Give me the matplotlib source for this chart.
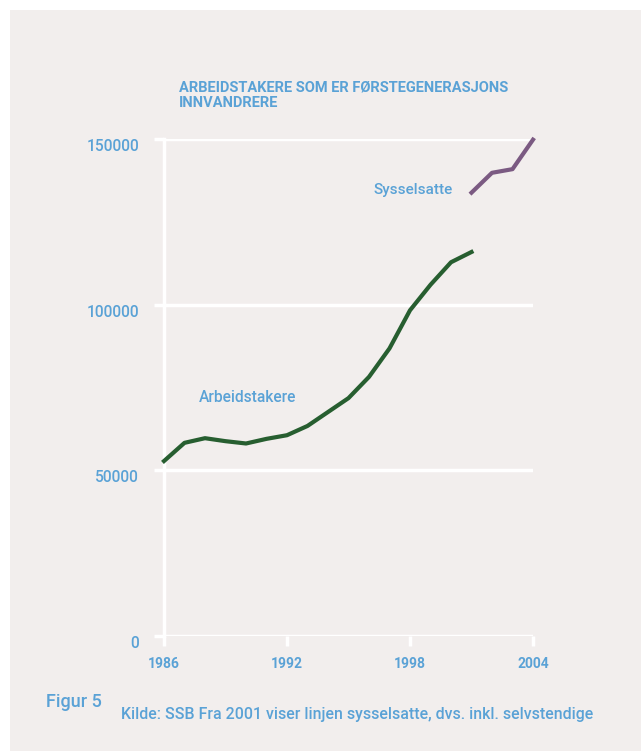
import matplotlib
matplotlib.use("Agg")
import matplotlib.pyplot as plt
from matplotlib.patches import Rectangle
from matplotlib.transforms import ScaledTranslation

# data
years_arb = [1986, 1987, 1988, 1989, 1990, 1991, 1992, 1993, 1994, 1995,
             1996, 1997, 1998, 1999, 2000, 2001]
arbeidstakere = [52800, 58300, 59700, 58800, 58100, 59500, 60600, 63400,
                 67600, 71800, 78200, 86800, 98300, 106000, 112800, 115900]
years_sys = [2001, 2002, 2003, 2004]
sysselsatte = [133800, 139800, 140900, 149800]
xticks = [1986, 1992, 1998, 2004]
yticks = [0, 50000, 100000, 150000]

BG = "#f2eeed"
BLUE = "#5aa2d6"
GREEN = "#275e30"
PURPLE = "#7b5a82"
FONT = ["Roboto", "DejaVu Sans"]

W, H = 641, 751
fig = plt.figure(figsize=(W / 100, H / 100), dpi=100)
fig.patch.set_facecolor("white")
fig.patches.append(Rectangle((10 / W, 0), 1, 1 - 10 / H, transform=fig.transFigure,
                             facecolor=BG, edgecolor="none", zorder=-5))


def fx(px):
    return px / W


def fy(py):
    return 1 - py / H


ax = fig.add_axes([fx(164), fy(636), fx(533) - fx(164), fy(139) - fy(636)])
ax.set_zorder(2)
ax.set_facecolor("none")
ax.set_xlim(1986, 2004)
ax.set_ylim(0, 150000)

ax.plot(years_arb, arbeidstakere, color=GREEN, lw=3, clip_on=False, zorder=3)
ax.plot(years_sys, sysselsatte, color=PURPLE, lw=3, clip_on=False, zorder=3)

for s in ["top", "right", "bottom"]:
    ax.spines[s].set_visible(False)
ax.spines["left"].set_color("white")
ax.spines["left"].set_linewidth(2.5)

ax.set_yticks(yticks)
ax.set_yticklabels([str(v) for v in yticks])
ax.set_xticks(xticks)
ax.set_xticklabels([str(v) for v in xticks])
ax.yaxis.grid(True, color="white", lw=2.5)
ax.set_axisbelow(True)
ax.tick_params(axis="y", length=7, width=2.5, color="white", pad=11,
               labelcolor=BLUE, labelsize=11.2)
ax.tick_params(axis="x", length=7, width=2.5, color="white", pad=8,
               labelcolor=BLUE, labelsize=10)
# value labels sit a little below their grid line
shift = ScaledTranslation(0, -6 / 100, fig.dpi_scale_trans)
for lab in ax.get_yticklabels():
    lab.set_family(FONT)
    lab.set_fontweight("medium")
    lab.set_transform(lab.get_transform() + shift)
for lab in ax.get_xticklabels():
    lab.set_family(FONT)
    lab.set_fontweight("bold")

ax.text(2000.1, 134500, "Sysselsatte", color=BLUE, fontsize=11, family=FONT,
        ha="right", va="center", fontweight="medium")
ax.text(1987.7, 72000, "Arbeidstakere", color=BLUE, fontsize=11.2, family=FONT,
        ha="left", va="center", fontweight="medium")

fig.text(fx(179), fy(80), "ARBEIDSTAKERE SOM ER FØRSTEGENERASJONS\nINNVANDRERE",
         color=BLUE, fontsize=10.5, family=FONT, fontweight="bold",
         ha="left", va="top", linespacing=1.2)
fig.text(fx(46), fy(702), "Figur 5", color=BLUE, fontsize=13, family=FONT,
         fontweight="medium", ha="left", va="center")
fig.text(fx(121), fy(714), "Kilde: SSB Fra 2001 viser linjen sysselsatte, dvs. inkl. selvstendige",
         color=BLUE, fontsize=11.45, family=FONT, fontweight="medium",
         ha="left", va="center")

fig.savefig("out.png", dpi=100, facecolor="white")
